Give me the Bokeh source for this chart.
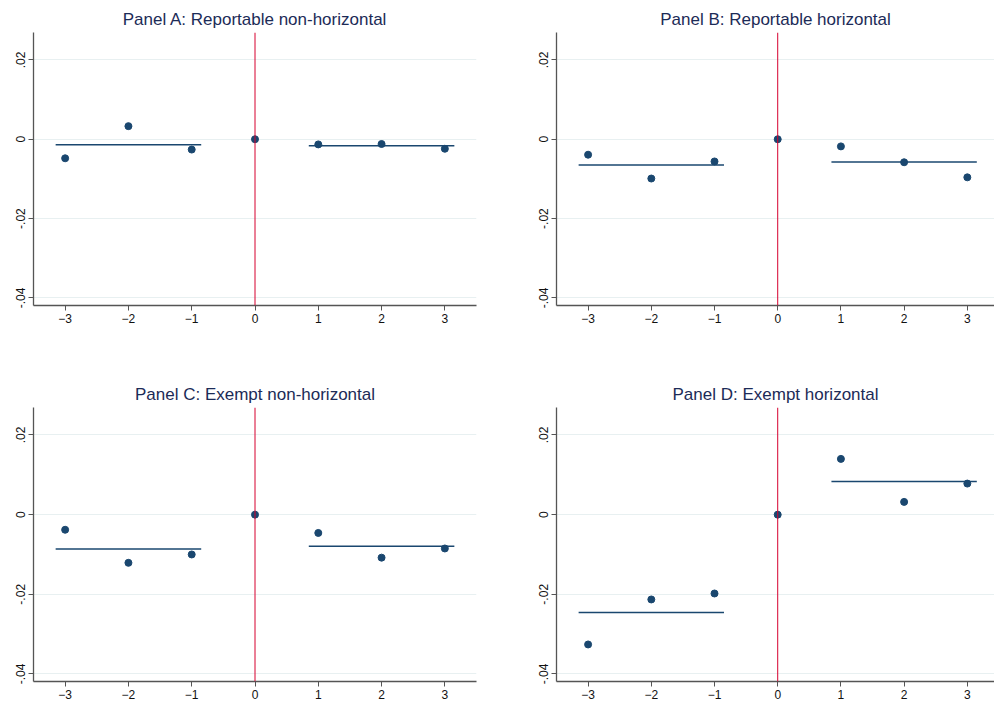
from bokeh.plotting import figure
from bokeh.layouts import column, row
from bokeh.models import FixedTicker, Span
from bokeh.embed import file_html
from bokeh.resources import INLINE

# Event time relative to the reform year
event_time = [-3, -2, -1, 0, 1, 2, 3]

# Panel titles and estimated coefficients
titles = [
    "Panel A: Reportable non-horizontal",
    "Panel B: Reportable horizontal",
    "Panel C: Exempt non-horizontal",
    "Panel D: Exempt horizontal",
]
coef_a = [-0.0048, 0.0033, -0.0026, 0.0, -0.0013, -0.0012, -0.0024]
coef_b = [-0.0039, -0.0099, -0.0056, 0.0, -0.0018, -0.0058, -0.0096]
coef_c = [-0.0038, -0.0121, -0.0100, 0.0, -0.0046, -0.0108, -0.0085]
coef_d = [-0.0326, -0.0213, -0.0198, 0.0, 0.0140, 0.0032, 0.0078]

# Y-axis ticks and their labels
y_ticks = [-0.04, -0.02, 0, 0.02]
y_labels = ["-.04", "-.02", "0", ".02"]

NAVY = "#1a476f"
RED = "#d6002f"
GRID = "#e8f0f1"
FONT = "Liberation Sans"


def panel(title, coefs, left, right, top, bottom, w, h, x_end):
    p = figure(width=w, height=h, output_backend="svg", toolbar_location=None,
               x_range=(-3.5, x_end), y_range=(-0.0419, 0.0269),
               min_border_left=left, min_border_right=right,
               min_border_top=top, min_border_bottom=bottom)
    p.title.text = title
    p.title.align = "center"
    p.title.text_font = FONT
    p.title.text_font_size = "17px"
    p.title.text_font_style = "normal"
    p.title.text_color = "#1c2b57"
    p.title.standoff = 7
    p.outline_line_color = None

    p.xaxis.ticker = FixedTicker(ticks=event_time)
    p.yaxis.ticker = FixedTicker(ticks=y_ticks)
    p.yaxis.major_label_overrides = {t: s for t, s in zip(y_ticks, y_labels)}
    p.yaxis.major_label_orientation = "vertical"
    for ax in (p.xaxis, p.yaxis):
        ax.axis_line_color = "#555555"
        ax.axis_line_width = 1.3
        ax.major_tick_line_color = "#555555"
        ax.major_tick_in = 0
        ax.major_tick_out = 5
        ax.minor_tick_line_color = None
        ax.major_label_text_font = FONT
        ax.major_label_text_font_size = "12px"
        ax.major_label_text_color = "#111111"
        ax.major_label_standoff = 3
    p.xgrid.grid_line_color = None
    p.ygrid.grid_line_color = GRID
    p.ygrid.grid_line_width = 1

    # event line at t = 0
    p.add_layout(Span(location=0, dimension="height", line_color=RED, line_width=1))

    # pre / post period means
    pre = [c for t, c in zip(event_time, coefs) if t < 0]
    post = [c for t, c in zip(event_time, coefs) if t > 0]
    pre_mean = sum(pre) / len(pre)
    post_mean = sum(post) / len(post)
    p.line([-3.15, -0.85], [pre_mean, pre_mean], line_color=NAVY, line_width=1.5)
    p.line([0.85, 3.15], [post_mean, post_mean], line_color=NAVY, line_width=1.5)

    p.scatter(event_time, coefs, size=7, fill_color=NAVY, line_color=NAVY)
    return p


W_L, W_R, H_T, H_B = 497, 497, 351, 351
pa = panel(titles[0], coef_a, 33, 21, 32, 46, W_L, H_T, 3.5)
pb = panel(titles[1], coef_b, 59, 0, 32, 46, W_R, H_T, 3.43)
pc = panel(titles[2], coef_c, 33, 21, 56, 21, W_L, H_B, 3.5)
pd = panel(titles[3], coef_d, 59, 0, 56, 21, W_R, H_B, 3.43)

layout = column(row(pa, pb, spacing=0), row(pc, pd, spacing=0), spacing=0)

open("out.html", "w").write(file_html(layout, INLINE))
